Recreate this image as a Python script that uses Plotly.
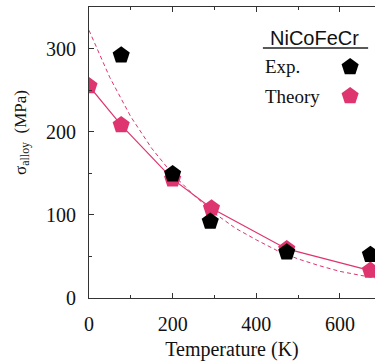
import plotly.graph_objects as go

# Measured yield stress of NiCoFeCr
exp_T = [77, 200, 290, 473, 673]
exp_sigma = [292, 149, 92, 55, 52]

# Theoretical prediction
theory_T = [0, 77, 200, 293, 473, 673]
theory_sigma = [255, 208, 143, 108, 59, 33]

# Dashed reference curve
curve_T = [0, 50, 100, 150, 200, 250, 300, 350, 400, 450, 500, 550, 600, 650, 684]
curve_sigma = [322, 265, 218, 180, 149, 124, 102, 84, 70, 57, 47, 39, 32, 27, 24]

PINK = "#DE3470"
BLACK = "#000000"
SERIF = "Times New Roman, Liberation Serif, DejaVu Serif, serif"

fig = go.Figure()

fig.add_trace(go.Scatter(
    x=curve_T, y=curve_sigma, mode="lines",
    line=dict(color=PINK, width=1, dash="4px,3px"),
    showlegend=False, hoverinfo="skip",
))
fig.add_trace(go.Scatter(
    x=theory_T, y=theory_sigma, mode="lines+markers",
    line=dict(color=PINK, width=1.2),
    marker=dict(symbol="pentagon", size=18, color=PINK, line=dict(width=0)),
    name="Theory", showlegend=False,
))
fig.add_trace(go.Scatter(
    x=exp_T, y=exp_sigma, mode="markers",
    marker=dict(symbol="pentagon", size=18, color=BLACK, line=dict(width=0)),
    name="Exp.", showlegend=False,
))

# Hand-built legend on an overlay axis spanning the plot area
legend_labels = ["Exp.", "Theory"]
legend_colors = [BLACK, PINK]
legend_y = [0.794, 0.694]
fig.add_trace(go.Scatter(
    x=[0.913, 0.913], y=legend_y, mode="markers",
    marker=dict(symbol="pentagon", size=18, color=legend_colors, line=dict(width=0)),
    xaxis="x2", yaxis="y2", showlegend=False, hoverinfo="skip", cliponaxis=False,
))
for label, ly in zip(legend_labels, legend_y):
    fig.add_annotation(
        x=0.608, y=ly, xref="paper", yref="paper", text=label, showarrow=False,
        xanchor="left", yanchor="middle", font=dict(family=SERIF, size=19, color="#111"),
    )
fig.add_annotation(
    x=0.79, y=0.893, xref="paper", yref="paper", text="NiCoFeCr", showarrow=False,
    xanchor="center", yanchor="middle", font=dict(family="Liberation Sans, Arial, sans-serif", size=20, color="#111"),
)
fig.add_shape(type="line", xref="paper", yref="paper", x0=0.608, x1=0.976, y0=0.859, y1=0.859,
              line=dict(color="#222", width=1.5))

# y-axis title
fig.add_annotation(
    x=-0.235, y=0.57, xref="paper", yref="paper",
    text="σ<sub>alloy</sub>  (MPa)", showarrow=False, textangle=-90,
    xanchor="center", yanchor="middle", font=dict(family=SERIF, size=17, color="#111"),
)

axis_common = dict(
    showgrid=False, zeroline=False, showline=True, linecolor="#333", linewidth=1.2,
    ticks="inside", ticklen=5, tickwidth=1, tickcolor="#333",
    tickfont=dict(family=SERIF, size=20, color="#111"),
)

fig.update_layout(
    width=375, height=361,
    margin=dict(l=89, r=0, t=7, b=63),
    plot_bgcolor="white", paper_bgcolor="white",
    font=dict(family=SERIF),
    xaxis=dict(
        range=[0, 684], dtick=200, tick0=0, mirror="allticks",
        minor=dict(dtick=100, ticks="inside", ticklen=3, tickcolor="#333"),
        title=dict(text="Temperature (K)", font=dict(family=SERIF, size=20, color="#111"), standoff=8),
        ticklabelstandoff=8,
        **axis_common,
    ),
    yaxis=dict(
        range=[0, 350], dtick=100, tick0=0, mirror=False,
        minor=dict(dtick=50, ticks="inside", ticklen=3, tickcolor="#333"),
        ticklabelstandoff=8,
        **axis_common,
    ),
    xaxis2=dict(range=[0, 1], overlaying="x", visible=False, domain=[0, 1]),
    yaxis2=dict(range=[0, 1], overlaying="y", visible=False),
)

fig.write_html("out.html")
